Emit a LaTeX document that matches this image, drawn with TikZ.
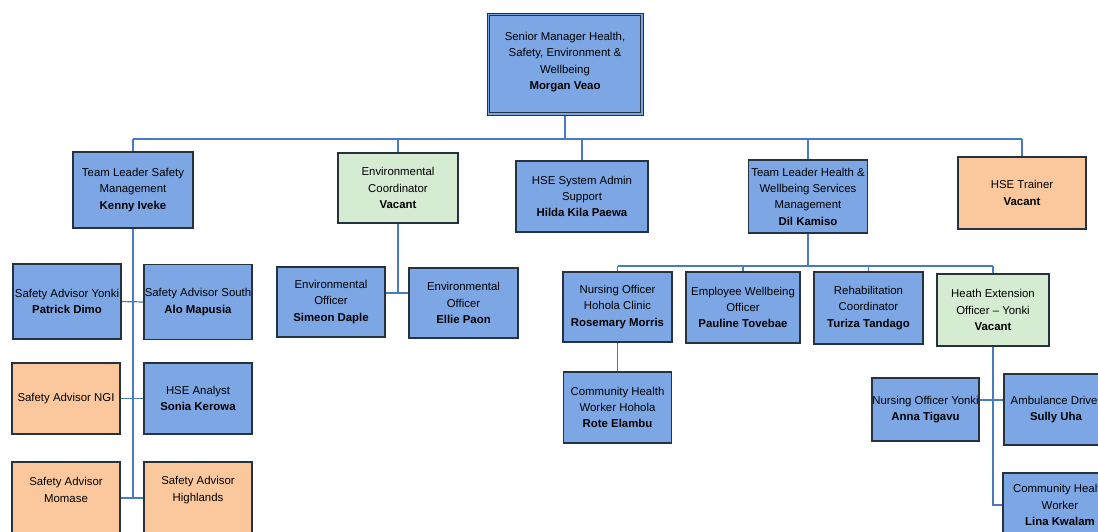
\documentclass[tikz,border=0pt]{standalone}
\usepackage{fontspec}
\setmainfont{Liberation Sans}
\definecolor{bfill}{HTML}{7CA7E4}
\definecolor{ofill}{HTML}{FAC89C}
\definecolor{gfill}{HTML}{D5ECD3}
\definecolor{bord}{HTML}{27323F}
\definecolor{conn}{HTML}{4A7BBE}
\pgfdeclarelayer{bg}
\pgfsetlayers{bg,main}
\tikzset{
  box/.style={draw=bord, line width=1.1pt, inner sep=0pt, align=center,
    font=\fontsize{11.4}{16.3}\selectfont},
  blue/.style={box, fill=bfill},
  orange/.style={box, fill=ofill},
  green/.style={box, fill=gfill},
  lbl/.style={inner sep=0pt, align=center, font=\fontsize{11.4}{16.3}\selectfont},
  wire/.style={draw=conn, line width=1.2pt}
}
\begin{document}
\begin{tikzpicture}[x=1pt,y=-1pt]
\useasboundingbox (0,0) rectangle (1098,532);
\begin{pgfonlayer}{bg}
\fill[white] (0,0) rectangle (1098,532);
\end{pgfonlayer}
\clip (0,0) rectangle (1098,532);

% level 0
\node[blue, line width=0.7pt, minimum width=156pt, minimum height=102pt] (top) at (565,64) {};
\draw[bord, line width=1.3pt] ([shift={(3pt,-3pt)}]top.north west) rectangle ([shift={(-3pt,3pt)}]top.south east);
\node[lbl] (toplbl) at (565,62) {Senior Manager Health,\\ Safety, Environment \&\\ Wellbeing\\ \textbf{Morgan Veao}};

% level 1
\node[blue, minimum width=120pt, minimum height=76pt] (tls) at (133,190) {Team Leader Safety\\ Management\\ \textbf{Kenny Iveke}};
\node[green, minimum width=120pt, minimum height=70pt] (envc) at (398,188) {Environmental\\ Coordinator\\ \textbf{Vacant}};
\node[blue, minimum width=132pt, minimum height=71pt] (hsa) at (582,196.5) {HSE System Admin\\ Support\\ \textbf{Hilda Kila Paewa}};
\node[blue, minimum width=119pt, minimum height=73pt] (tlh) at (808,196.5) {Team Leader Health \&\\ Wellbeing Services\\ Management\\ \textbf{Dil Kamiso}};
\node[orange, minimum width=128pt, minimum height=72pt] (trainer) at (1022,193) {HSE Trainer\\ \textbf{Vacant}};

% safety team
\node[blue, minimum width=108pt, minimum height=75pt] (sy) at (67,301.5) {Safety Advisor Yonki\\ \textbf{Patrick Dimo}};
\node[blue, minimum width=108pt, minimum height=75pt] (ss) at (198,302) {Safety Advisor South\\ \textbf{Alo Mapusia}};
\node[orange, minimum width=108pt, minimum height=71pt] (ngi) at (66,398.5) {Safety Advisor NGI};
\node[blue, minimum width=108pt, minimum height=71pt] (ana) at (198,398.5) {HSE Analyst\\ \textbf{Sonia Kerowa}};
\node[orange, minimum width=108pt, minimum height=80pt] (mom) at (66,502) {};
\node[lbl] (momlbl) at (66,490) {Safety Advisor\\ Momase};
\node[orange, minimum width=108pt, minimum height=80pt] (high) at (198,502) {};
\node[lbl] (highlbl) at (198,490) {Safety Advisor\\ Highlands};

% environment team
\node[blue, minimum width=108pt, minimum height=70pt] (simeon) at (331,302) {Environmental\\ Officer\\ \textbf{Simeon Daple}};
\node[blue, minimum width=109pt, minimum height=70pt] (ellie) at (463.5,303) {Environmental\\ Officer\\ \textbf{Ellie Paon}};

% health & wellbeing team
\node[blue, minimum width=109pt, minimum height=70pt] (nho) at (617.5,307) {Nursing Officer\\ Hohola Clinic\\ \textbf{Rosemary Morris}};
\node[blue, minimum width=114pt, minimum height=71pt] (ew) at (743,307.5) {Employee Wellbeing\\ Officer\\ \textbf{Pauline Tovebae}};
\node[blue, minimum width=109pt, minimum height=72pt] (rc) at (868.5,308) {Rehabilitation\\ Coordinator\\ \textbf{Turiza Tandago}};
\node[green, minimum width=112pt, minimum height=72pt] (he) at (993,310) {Heath Extension\\ Officer -- Yonki\\ \textbf{Vacant}};
\node[blue, minimum width=108pt, minimum height=71pt] (chw) at (617.5,407.5) {Community Health\\ Worker Hohola\\ \textbf{Rote Elambu}};
\node[blue, minimum width=107pt, minimum height=63pt] (noy) at (925.5,409.5) {Nursing Officer Yonki\\ \textbf{Anna Tigavu}};
\node[blue, minimum width=104pt, minimum height=71pt] (amb) at (1056,409.5) {Ambulance Driver\\ \textbf{Sully Uha}};
\node[blue, minimum width=114pt, minimum height=64pt] (chwl) at (1060,505) {Community Health\\ Worker\\ \textbf{Lina Kwalam}};

% connectors (behind the boxes)
\begin{pgfonlayer}{bg}
\coordinate (busL) at (133,139);
\coordinate (busR) at (1022,139);
\draw[wire] (top.south) -- (top.south |- busL);
\draw[wire] (busL) -- (busR);
\foreach \n in {tls,envc,hsa,tlh,trainer} \draw[wire] (\n.north) -- (\n.north |- busL);

\coordinate (sbot) at (133,498);
\draw[wire] (tls.south) -- (sbot);
\draw[wire] (sy.east) -- (ss.west);
\draw[wire] (ngi.east) -- (ana.west);
\draw[wire] (sbot -| mom.east) -- (sbot -| high.west);

\coordinate (eb) at (398,293);
\draw[wire] (envc.south) -- (eb);
\draw[wire] (eb -| simeon.east) -- (eb -| ellie.west);

\coordinate (hb) at (808,266);
\draw[wire] (tlh.south) -- (hb);
\draw[wire] (hb -| nho.north) -- (hb -| he.north);
\foreach \n in {nho,ew,rc,he} \draw[wire] (\n.north) -- (\n.north |- hb);
\draw[wire] (nho.south) -- (chw.north);

\coordinate (hb2) at (993,400);
\draw[wire] (he.south) -- (he.south |- chwl.west) -- (chwl.west);
\draw[wire] (hb2 -| noy.east) -- (hb2 -| amb.west);
\end{pgfonlayer}
\end{tikzpicture}
\end{document}
